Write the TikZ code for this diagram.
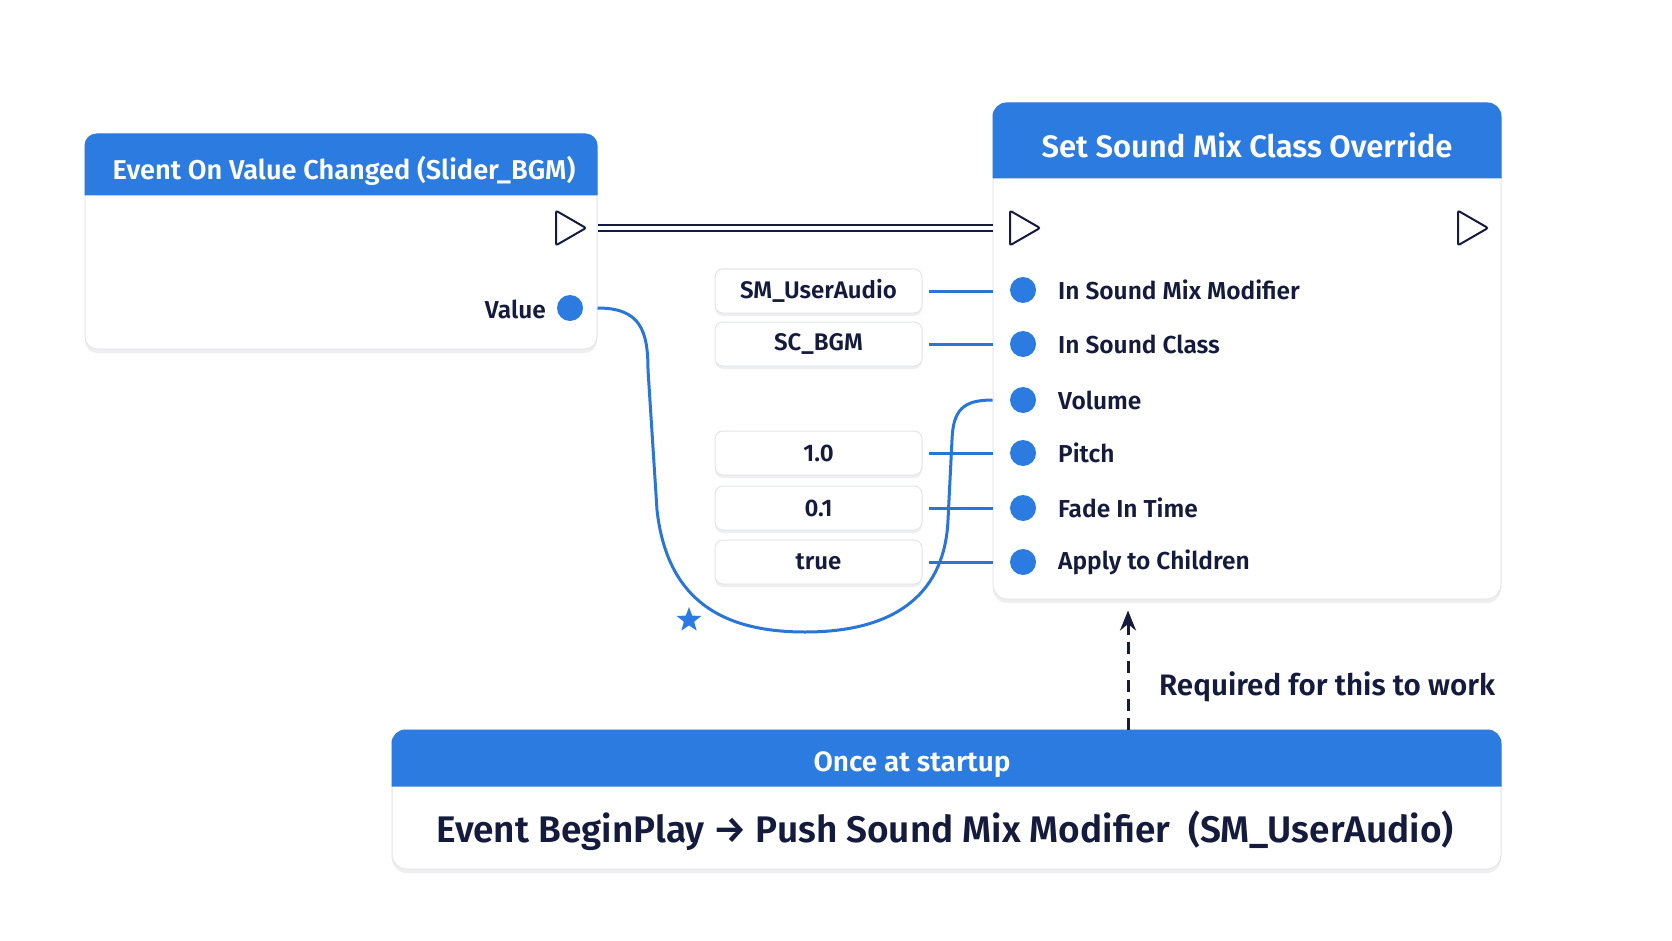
\documentclass[tikz,border=0pt]{standalone}
\usepackage{fontspec}
\IfFontExistsTF{Fira Sans SemiBold}{\setmainfont{Fira Sans SemiBold}}{\IfFontExistsTF{Fira Sans Medium}{\setmainfont{Fira Sans Medium}}{\setmainfont{Fira Sans}}}
\usetikzlibrary{shapes.geometric,shadows,arrows.meta}

\definecolor{hdrblue}{HTML}{2C7BE0}
\definecolor{navy}{HTML}{141B3C}
\definecolor{wireblue}{HTML}{2A76D8}
\definecolor{rimgray}{HTML}{E2E5EB}

\tikzset{
	nodebox/.style={draw=rimgray,line width=1pt,fill=white,rounded corners=12pt,inner sep=0pt,
		drop shadow={opacity=0.12,shadow xshift=0pt,shadow yshift=-4pt}},
	litbox/.style={draw=rimgray,line width=1pt,fill=white,rounded corners=8pt,inner sep=0pt,
		minimum width=207pt,minimum height=44pt,text=navy,font=\fontsize{24}{28}\selectfont,
		drop shadow={opacity=0.12,shadow xshift=0pt,shadow yshift=-3pt}},
	hdrtext/.style={text=white,inner sep=0pt},
	pinlabel/.style={text=navy,inner sep=0pt,font=\fontsize{24.5}{28}\selectfont},
	pindot/.style={circle,fill=hdrblue,minimum size=26pt,inner sep=0pt},
	execpin/.style={regular polygon,regular polygon sides=3,shape border rotate=-90,
		draw=navy,line width=2pt,fill=white,rounded corners=2pt,minimum size=40pt,inner sep=0pt},
	wire/.style={wireblue,line width=3pt},
	execwire/.style={navy,line width=2.2pt,double=white,double distance=4.5pt},
	reqarrow/.style={navy,line width=3pt,dash pattern=on 12pt off 7pt,-{Stealth[length=20pt,width=16pt]}}
}

\begin{document}
\begin{tikzpicture}[x=1pt,y=-1pt]
	\useasboundingbox (0,0) rectangle (1672,941);
	\fill[white] (0,0) rectangle (1672,941);

	\node[nodebox,minimum width=512pt,minimum height=215pt] (evt) at (341,241.5) {};
	\fill[hdrblue] ([yshift=-62pt]evt.north west) [rounded corners=12pt] -- (evt.north west) -- (evt.north east) [sharp corners] -- ([yshift=-62pt]evt.north east) -- cycle;
	\node[hdrtext,font=\fontsize{27.2}{32}\selectfont] (evtTitle) at ([xshift=3pt,yshift=-37pt]evt.north) {Event On Value Changed (Slider\_BGM)};
	\node[execpin] (evtOut) at (566,228) {};
	\node[pindot] (evtVal) at (570,308) {};
	\node[pinlabel,anchor=east] (evtValLbl) at (546,309) {Value};

	\node[nodebox,rounded corners=14pt,minimum width=508pt,minimum height=496pt] (set) at (1247,351) {};
	\fill[hdrblue] ([yshift=-76pt]set.north west) [rounded corners=14pt] -- (set.north west) -- (set.north east) [sharp corners] -- ([yshift=-76pt]set.north east) -- cycle;
	\node[hdrtext,font=\fontsize{31}{36}\selectfont] (setTitle) at ([yshift=-43pt]set.north) {Set Sound Mix Class Override};
	\node[execpin] (setIn) at (1020,228) {};
	\node[execpin] (setOut) at (1468,228) {};
	\foreach \y/\lbl [count=\i] in {290/In Sound Mix Modifier,344/In Sound Class,400/Volume,453/Pitch,508/Fade In Time,562/Apply to Children}{
		\node[pindot] (in\i) at (1023,\y) {};
		\node[pinlabel,anchor=west] (lbl\i) at (1058,\y) {\lbl};
	}

	\draw[execwire] (evtOut -| evt.east) -- (setIn -| set.west);

	\foreach \y/\val/\k in {291/SM\_UserAudio/1,344/SC\_BGM/2,453/1.0/4,508/0.1/5,562/true/6}{
		\node[litbox] (lit\k) at (818.5,\y) {\val};
		\draw[wire] ([xshift=6pt]lit\k.east) -- (lit\k.east -| set.west);
	}

	\draw[wire] (evtVal -| evt.east) .. controls (640,308) and (648,330) .. (648,370) -- (657,510)
		.. controls (667,600) and (722,632) .. (805,632) .. controls (900,632) and (945,590) .. (948,520)
		-- (952,440) .. controls (953,410) and (963,400) .. (in3 -| set.west);
	\node[star,star points=5,star point ratio=2.4,fill=hdrblue,minimum size=26pt,inner sep=0pt] (mark) at (689,620) {};

	\node[nodebox,rounded corners=14pt,minimum width=1109pt,minimum height=139pt] (boot) at (946.5,799.5) {};
	\fill[hdrblue] ([yshift=-57pt]boot.north west) [rounded corners=14pt] -- (boot.north west) -- (boot.north east) [sharp corners] -- ([yshift=-57pt]boot.north east) -- cycle;
	\node[hdrtext,font=\fontsize{28}{32}\selectfont] (bootTitle) at (912,765) {Once at startup};
	\node[text=navy,inner sep=0pt,font=\fontsize{37}{42}\selectfont] (bootBody) at (945,831) {Event BeginPlay → Push Sound Mix Modifier \ (SM\_UserAudio)};

	\coordinate (reqX) at (1128,0);
	\coordinate (reqTip) at ([yshift=-11pt]set.south);
	\draw[reqarrow] (boot.north -| reqX) -- (reqTip -| reqX);
	\node[text=navy,inner sep=0pt,anchor=west,font=\fontsize{29.6}{34}\selectfont] (reqLbl) at (1159,687) {Required for this to work};
\end{tikzpicture}
\end{document}
